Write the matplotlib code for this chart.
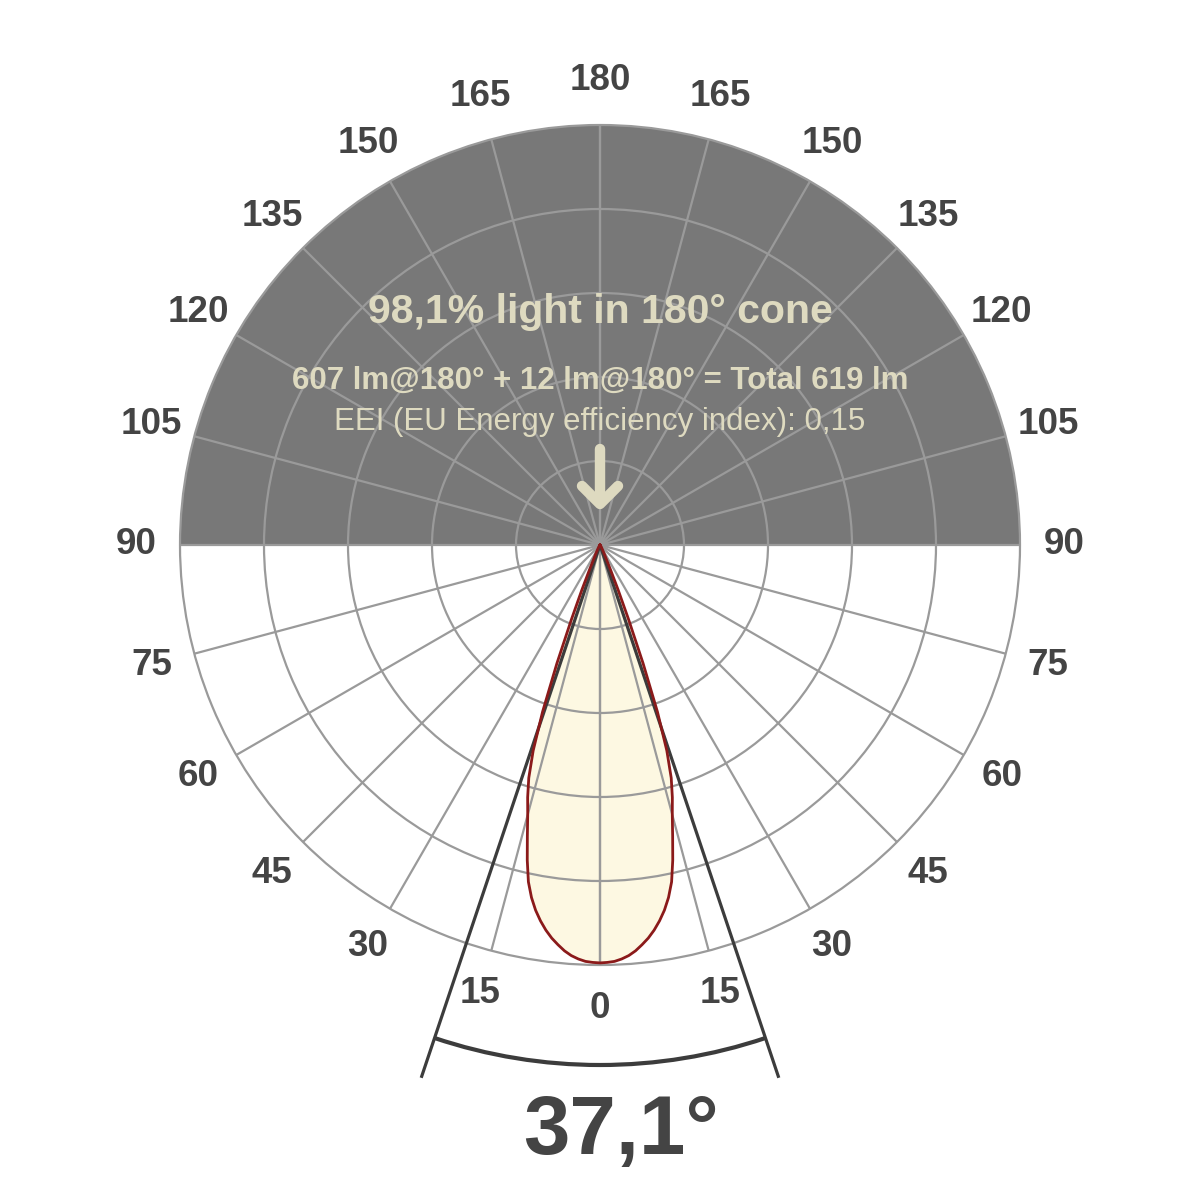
import numpy as np
import matplotlib
matplotlib.use("Agg")
import matplotlib.pyplot as plt
from matplotlib.patches import Wedge, Arc, Polygon

# ---- data ----
angle_deg = [0, 1, 2, 3, 4, 5, 6, 7, 8, 9, 10, 11, 12, 13, 14, 15, 16, 17, 18, 19, 20, 21, 22, 23, 24, 26, 28, 30, 35, 40, 50, 90]
intensity = [99.5, 99.4, 99.2, 98.7, 98.0, 97.0, 95.7, 94.3, 92.6, 90.6, 88.3, 85.5, 82.0, 77.0, 71.5, 66.5, 62.5, 58.0, 51.5, 42.0, 30.0, 19.0, 11.5, 6.5, 4.0, 2.2, 1.3, 0.8, 0.4, 0.2, 0.0, 0.0]
ring_values = [20, 40, 60, 80, 100]
tick_angles = [0, 15, 30, 45, 60, 75, 90, 105, 120, 135, 150, 165, 180]
beam_angle = 37.1
title = "98,1% light in 180° cone"
line2 = "607 lm@180° + 12 lm@180° = Total 619 lm"
line3 = "EEI (EU Energy efficiency index): 0,15"

# ---- style ----
R = 420.0          # px radius of 100 %
scale = R / 100.0
grid_c = "#9a9a9a"
dark_fill = "#787878"
label_c = "#444444"
cream_txt = "#DEDAC0"
lobe_fill = "#FDF8E2"
lobe_edge = "#8B1A1A"
beam_c = "#3c3c3c"
FONT = "Liberation Sans"

fig = plt.figure(figsize=(12, 12), dpi=100)
ax = fig.add_axes([0, 0, 1, 1])
ax.set_xlim(-600, 600)
ax.set_ylim(-655, 545)
ax.set_aspect("equal")
ax.axis("off")

def pt(theta_deg, r):
    t = np.radians(theta_deg)
    return r * np.sin(t), -r * np.cos(t)

# upper dark half disc
ax.add_patch(Wedge((0, 0), R, 0, 180, facecolor=dark_fill, edgecolor="none", zorder=1))

# lobe (both sides)
a = np.array(angle_deg, dtype=float)
v = np.array(intensity, dtype=float) * scale
full_a = np.concatenate([-a[::-1], a[1:]])
full_v = np.concatenate([v[::-1], v[1:]])
xs, ys = pt(full_a, full_v)
ax.add_patch(Polygon(np.column_stack([xs, ys]), closed=True, facecolor=lobe_fill,
                     edgecolor="none", zorder=1.5))

# grid circles
for rv in ring_values:
    ax.add_patch(Arc((0, 0), 2 * rv * scale, 2 * rv * scale, theta1=0, theta2=360,
                     color=grid_c, lw=1.6, zorder=2))
# spokes
for ta in tick_angles:
    for s in (-1, 1):
        x1, y1 = pt(s * ta, R)
        ax.plot([0, x1], [0, y1], color=grid_c, lw=1.6, zorder=2, solid_capstyle="butt")

# beam angle lines and arc
half = beam_angle / 2.0
for s in (-1, 1):
    x1, y1 = pt(s * half, 562)
    ax.plot([0, x1], [0, y1], color=beam_c, lw=2.3, zorder=3, solid_capstyle="butt")
ax.add_patch(Arc((0, 0), 2 * 520, 2 * 520, theta1=270 - half, theta2=270 + half,
                 color=beam_c, lw=3.0, zorder=3))

# lobe outline
ax.plot(np.append(xs, xs[0]), np.append(ys, ys[0]), color=lobe_edge, lw=2.0, zorder=5,
        solid_joinstyle="round")

# angle labels
for ta in tick_angles:
    sides = (1,) if ta in (0, 180) else (-1, 1)
    for s in sides:
        x, y = pt(s * ta, 464)
        ax.text(x, y, str(ta), ha="center", va="center", fontsize=26.5, fontweight="bold",
                color=label_c, family=FONT, zorder=6)

# header texts
ax.text(0, 222, title, ha="center", va="baseline", fontsize=29.5, fontweight="bold",
        color=cream_txt, family=FONT, zorder=6)
ax.text(0, 156, line2, ha="center", va="baseline", fontsize=22.5, fontweight="bold",
        color=cream_txt, family=FONT, zorder=6)
ax.text(0, 115, line3, ha="center", va="baseline", fontsize=22.5,
        color=cream_txt, family=FONT, zorder=6)

# arrow
ax.plot([0, 0], [96, 42], color=cream_txt, lw=7.5, solid_capstyle="round", zorder=6)
ax.plot([-18, 0, 18], [59, 41, 59], color=cream_txt, lw=7.5, solid_capstyle="round",
        solid_joinstyle="round", zorder=6)

# beam angle label
ax.text(21, -587, f"{beam_angle:.1f}°".replace(".", ","), ha="center", va="center",
        fontsize=60, fontweight="bold", color=label_c, family=FONT, zorder=6)

fig.savefig("out.png", dpi=100, facecolor="white")
